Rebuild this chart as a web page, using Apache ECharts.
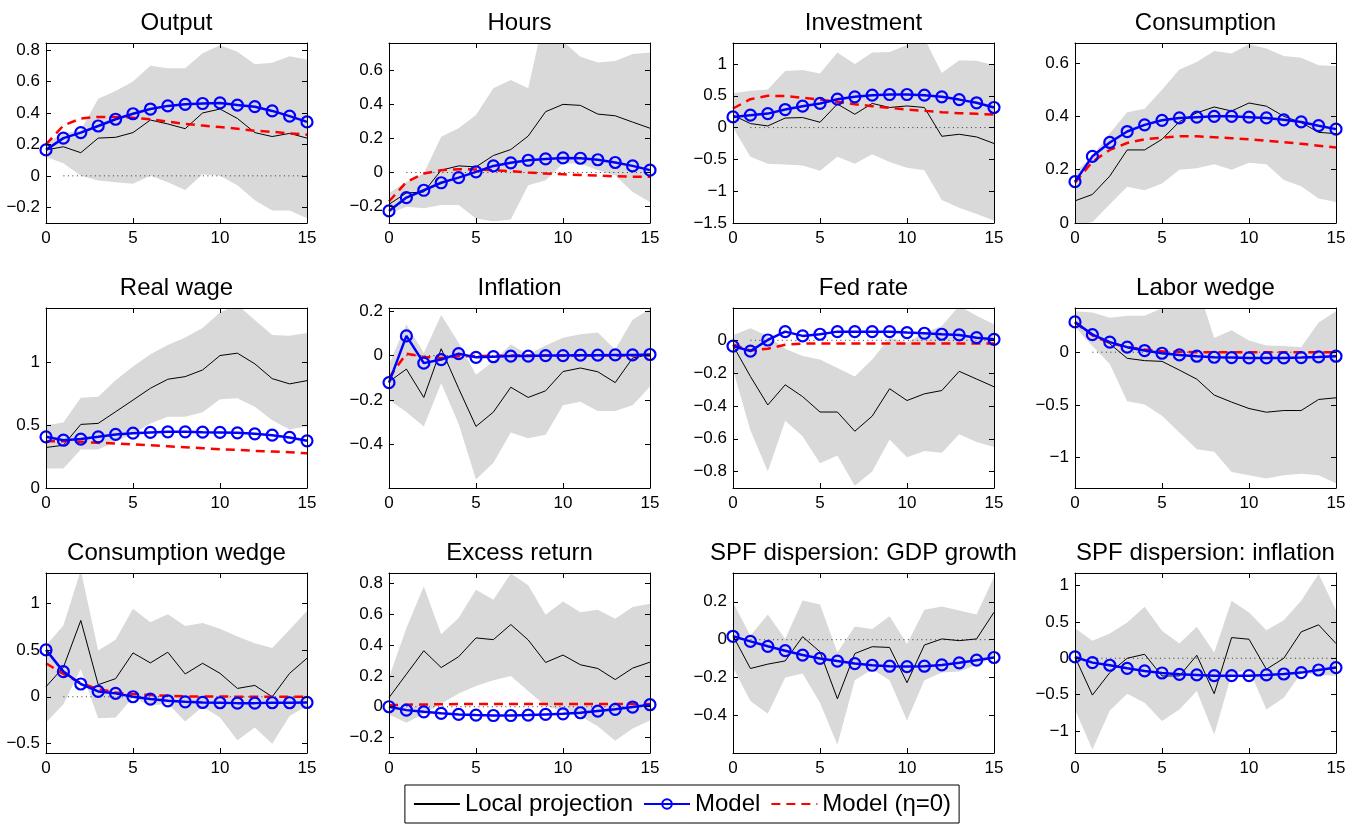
<!DOCTYPE html>
<html>
<head>
<meta charset="utf-8">
<script src="https://cdn.jsdelivr.net/npm/echarts@6/dist/echarts.min.js"></script>
<style>
html, body { margin: 0; padding: 0; background: #fff; }
#chart { width: 1364px; height: 827px; }
</style>
</head>
<body>
<div id="chart"></div>
<script>
// horizons (quarters)
const horizons = [0,1,2,3,4,5,6,7,8,9,10,11,12,13,14,15];

// Output
const outputUpper = [0.21,0.27,0.29,0.49,0.54,0.60,0.70,0.685,0.685,0.78,0.83,0.79,0.71,0.72,0.76,0.74];
const outputLower = [0.12,0.08,0.00,-0.03,-0.04,-0.05,0.00,-0.04,-0.09,0.01,0.00,-0.06,-0.155,-0.22,-0.22,-0.27];
const outputLP = [0.165,0.185,0.147,0.24,0.245,0.275,0.355,0.33,0.30,0.40,0.425,0.365,0.275,0.25,0.27,0.24];
const outputModel = [0.165,0.24,0.275,0.317,0.36,0.395,0.425,0.445,0.455,0.46,0.464,0.45,0.44,0.413,0.38,0.343];
const outputEta0 = [0.2,0.32,0.365,0.375,0.375,0.37,0.36,0.345,0.33,0.32,0.31,0.30,0.287,0.28,0.27,0.262];
const outputTicks = [-0.2,0,0.2,0.4,0.6,0.8];

// Hours
const hoursUpper = [-0.12,-0.055,-0.006,0.21,0.26,0.337,0.494,0.543,0.494,0.95,0.77,0.68,0.645,0.655,0.696,0.704];
const hoursLower = [-0.24,-0.2,-0.21,-0.19,-0.19,-0.27,-0.285,-0.276,-0.075,-0.045,0.053,0.053,0.014,-0.016,-0.114,-0.173];
const hoursLP = [-0.186,-0.12,-0.114,0.014,0.039,0.033,0.10,0.135,0.214,0.357,0.40,0.394,0.343,0.333,0.296,0.26];
const hoursModel = [-0.225,-0.147,-0.104,-0.06,-0.03,0.004,0.039,0.057,0.072,0.08,0.086,0.084,0.075,0.059,0.039,0.014];
const hoursEta0 = [-0.17,-0.055,-0.006,0.014,0.02,0.018,0.014,0.008,0,-0.006,-0.01,-0.014,-0.018,-0.022,-0.024,-0.025];
const hoursTicks = [-0.2,0,0.2,0.4,0.6];

// Investment
const invUpper = [0.54,0.58,0.6,0.89,0.905,0.85,1.18,1.0,1.18,1.19,1.3,1.4,0.86,1.06,1.05,0.98];
const invLower = [0.0,-0.46,-0.57,-0.58,-0.595,-0.68,-0.46,-0.57,-0.42,-0.54,-0.63,-0.67,-1.14,-1.26,-1.36,-1.46];
const invLP = [0.195,0.063,0.026,0.15,0.158,0.084,0.37,0.21,0.38,0.316,0.34,0.316,-0.137,-0.105,-0.147,-0.25];
const invModel = [0.168,0.195,0.22,0.284,0.337,0.38,0.447,0.484,0.51,0.52,0.52,0.51,0.484,0.44,0.39,0.316];
const invEta0 = [0.3,0.447,0.5,0.495,0.468,0.44,0.405,0.368,0.337,0.31,0.284,0.263,0.242,0.226,0.216,0.205];
const invTicks = [-1.5,-1,-0.5,0,0.5,1];

// Consumption
const consUpper = [0.19,0.25,0.337,0.415,0.428,0.5,0.576,0.604,0.645,0.636,0.67,0.654,0.626,0.62,0.592,0.589];
const consLower = [-0.01,0.004,0.07,0.136,0.123,0.148,0.2,0.205,0.22,0.2,0.226,0.22,0.161,0.138,0.092,0.079];
const consLP = [0.083,0.107,0.176,0.274,0.274,0.314,0.38,0.413,0.435,0.42,0.45,0.438,0.4,0.377,0.34,0.335];
const consModel = [0.155,0.25,0.302,0.343,0.368,0.385,0.394,0.397,0.4,0.4,0.397,0.394,0.387,0.379,0.365,0.352];
const consEta0 = [0.151,0.23,0.274,0.3,0.314,0.32,0.325,0.325,0.322,0.318,0.314,0.308,0.303,0.297,0.29,0.283];
const consTicks = [0,0.2,0.4,0.6];

// Real wage
const wageUpper = [0.5,0.523,0.72,0.728,0.86,0.968,1.067,1.14,1.2,1.275,1.4,1.46,1.34,1.22,1.213,1.235];
const wageLower = [0.155,0.155,0.307,0.307,0.368,0.435,0.515,0.568,0.568,0.603,0.707,0.715,0.648,0.541,0.467,0.493];
const wageLP = [0.323,0.341,0.507,0.515,0.608,0.701,0.795,0.867,0.888,0.941,1.056,1.075,0.99,0.872,0.83,0.856];
const wageModel = [0.408,0.381,0.39,0.408,0.427,0.437,0.443,0.448,0.448,0.445,0.443,0.44,0.432,0.421,0.403,0.376];
const wageEta0 = [0.373,0.373,0.368,0.36,0.355,0.347,0.341,0.333,0.325,0.317,0.309,0.304,0.296,0.291,0.285,0.277];
const wageTicks = [0,0.5,1];

// Inflation
const inflUpper = [-0.04,0.142,0.012,0.183,0.058,-0.087,-0.026,0.05,0.005,0.046,0.081,0.096,0.104,0.027,0.162,0.21];
const inflLower = [-0.2,-0.255,-0.32,-0.125,-0.308,-0.56,-0.484,-0.347,-0.373,-0.357,-0.224,-0.209,-0.25,-0.25,-0.224,-0.14];
const inflLP = [-0.118,-0.061,-0.189,0.031,-0.148,-0.32,-0.255,-0.143,-0.189,-0.159,-0.072,-0.056,-0.073,-0.122,-0.011,0.005];
const inflModel = [-0.122,0.089,-0.034,-0.018,0.009,-0.008,-0.005,-0.002,-0.002,0,0,0.002,0.002,0.003,0.003,0.005];
const inflEta0 = [-0.1,0.009,-0.006,-0.011,-0.003,-0.002,-0.001,0,0,0,0,0,0,0,0,0];
const inflTicks = [-0.4,-0.2,0,0.2];

// Fed rate
const fedUpper = [0.031,0.074,0.027,-0.051,-0.096,-0.117,-0.168,-0.22,-0.117,0.016,-0.014,0.047,0.088,0.21,0.15,0.098];
const fedLower = [-0.18,-0.548,-0.8,-0.49,-0.585,-0.749,-0.702,-0.886,-0.8,-0.605,-0.712,-0.675,-0.685,-0.572,-0.62,-0.65];
const fedLP = [-0.031,-0.22,-0.394,-0.271,-0.343,-0.437,-0.437,-0.554,-0.462,-0.295,-0.367,-0.326,-0.306,-0.189,-0.236,-0.283];
const fedModel = [-0.035,-0.066,0.002,0.053,0.027,0.037,0.053,0.053,0.053,0.053,0.047,0.043,0.037,0.033,0.016,0.006];
const fedEta0 = [-0.025,-0.062,-0.051,-0.027,-0.02,-0.02,-0.02,-0.02,-0.02,-0.02,-0.02,-0.02,-0.02,-0.02,-0.02,-0.02];
const fedTicks = [-0.8,-0.6,-0.4,-0.2,0];

// Labor wedge
const laborUpper = [0.39,0.378,0.327,0.346,0.346,0.417,0.55,0.65,0.135,0.208,0.112,0.064,0.058,0.048,0.282,0.39];
const laborLower = [0.24,0.058,-0.112,-0.465,-0.497,-0.603,-0.763,-0.923,-0.946,-1.138,-1.17,-1.2,-1.17,-1.154,-1.17,-1.244];
const laborLP = [0.272,0.176,0.08,-0.058,-0.08,-0.087,-0.17,-0.256,-0.407,-0.474,-0.535,-0.57,-0.554,-0.554,-0.449,-0.433];
const laborModel = [0.288,0.167,0.096,0.048,0.016,-0.01,-0.026,-0.038,-0.048,-0.051,-0.054,-0.054,-0.054,-0.051,-0.045,-0.038];
const laborEta0 = [0.282,0.16,0.087,0.048,0.026,0.01,0.003,0,0,0,0,0,0,0,0,0];
const laborTicks = [-1,-0.5,0];

// Consumption wedge
const cwUpper = [0.546,0.76,1.35,0.493,0.607,0.94,0.796,0.879,0.754,0.786,0.725,0.643,0.571,0.521,0.714,0.914];
const cwLower = [-0.275,-0.079,0.296,-0.229,-0.221,-0.007,-0.096,-0.071,-0.264,-0.107,-0.221,-0.464,-0.329,-0.5,-0.204,-0.096];
const cwLP = [0.107,0.314,0.814,0.129,0.193,0.468,0.361,0.475,0.243,0.357,0.25,0.089,0.121,0.0,0.25,0.411];
const cwModel = [0.5,0.268,0.136,0.057,0.036,0.0,-0.025,-0.043,-0.054,-0.061,-0.064,-0.068,-0.068,-0.064,-0.064,-0.061];
const cwEta0 = [0.357,0.243,0.146,0.082,0.046,0.029,0.018,0.011,0.004,0.003,0.002,0.001,0.001,0,0,0];
const cwTicks = [-0.5,0,0.5,1];

// Excess return
const exUpper = [0.19,0.51,0.78,0.47,0.576,0.759,0.693,0.863,0.787,0.596,0.683,0.613,0.628,0.57,0.646,0.667];
const exLower = [-0.05,-0.104,-0.046,0.02,0.085,0.135,0.172,0.2,0.102,0.004,-0.028,-0.061,-0.126,-0.22,-0.141,-0.089];
const exLP = [0.059,0.211,0.363,0.254,0.324,0.446,0.435,0.533,0.433,0.287,0.335,0.272,0.248,0.176,0.25,0.289];
const exModel = [0,-0.022,-0.033,-0.043,-0.05,-0.054,-0.057,-0.057,-0.054,-0.05,-0.046,-0.039,-0.028,-0.017,-0.002,0.013];
const exEta0 = [0.01,0.013,0.015,0.016,0.017,0.017,0.017,0.018,0.018,0.018,0.018,0.018,0.018,0.018,0.018,0.018];
const exTicks = [-0.2,0,0.2,0.4,0.6,0.8];

// SPF dispersion: GDP growth
const gdpUpper = [0.198,0.021,0.133,0.004,0.207,0.186,-0.067,0.069,0.057,0.124,-0.023,0.158,0.175,0.154,0.133,0.331];
const gdpLower = [-0.147,-0.324,-0.391,-0.2,-0.179,-0.333,-0.554,-0.214,-0.156,-0.214,-0.427,-0.214,-0.173,-0.168,-0.133,-0.094];
const gdpLP = [0.021,-0.152,-0.129,-0.112,0.016,-0.064,-0.312,-0.073,-0.037,-0.041,-0.227,-0.028,0.004,-0.005,0.004,0.145];
const gdpModel = [0.018,-0.009,-0.035,-0.058,-0.081,-0.099,-0.113,-0.126,-0.135,-0.14,-0.142,-0.14,-0.133,-0.122,-0.108,-0.094];
const gdpTicks = [-0.4,-0.2,0,0.2];

// SPF dispersion: inflation
const sinfUpper = [0.413,0.239,0.339,0.49,0.706,0.376,0.202,0.431,0.078,0.789,0.628,0.385,0.523,0.789,1.156,0.66];
const sinfLower = [-0.702,-1.252,-0.716,-0.486,-0.61,-0.862,-0.702,-0.45,-1.046,-0.22,-0.15,-0.702,-0.541,-0.2,-0.23,-0.24];
const sinfLP = [0.018,-0.505,-0.197,0,0.055,-0.243,-0.243,0.041,-0.486,0.284,0.261,-0.151,0,0.362,0.459,0.202];
const sinfModel = [0.018,-0.06,-0.096,-0.138,-0.174,-0.202,-0.22,-0.229,-0.239,-0.239,-0.239,-0.229,-0.216,-0.197,-0.161,-0.128];
const sinfTicks = [-1,-0.5,0,0.5,1];

const panels = [
  {title: 'Output', hi: outputUpper, lo: outputLower, lp: outputLP, model: outputModel, eta0: outputEta0, ticks: outputTicks, min: -0.3, max: 0.845},
  {title: 'Hours', hi: hoursUpper, lo: hoursLower, lp: hoursLP, model: hoursModel, eta0: hoursEta0, ticks: hoursTicks, min: -0.296, max: 0.76},
  {title: 'Investment', hi: invUpper, lo: invLower, lp: invLP, model: invModel, eta0: invEta0, ticks: invTicks, min: -1.5, max: 1.33},
  {title: 'Consumption', hi: consUpper, lo: consLower, lp: consLP, model: consModel, eta0: consEta0, ticks: consTicks, min: 0, max: 0.675},
  {title: 'Real wage', hi: wageUpper, lo: wageLower, lp: wageLP, model: wageModel, eta0: wageEta0, ticks: wageTicks, min: 0, max: 1.435},
  {title: 'Inflation', hi: inflUpper, lo: inflLower, lp: inflLP, model: inflModel, eta0: inflEta0, ticks: inflTicks, min: -0.598, max: 0.215},
  {title: 'Fed rate', hi: fedUpper, lo: fedLower, lp: fedLP, model: fedModel, eta0: fedEta0, ticks: fedTicks, min: -0.9, max: 0.197},
  {title: 'Labor wedge', hi: laborUpper, lo: laborLower, lp: laborLP, model: laborModel, eta0: laborEta0, ticks: laborTicks, min: -1.29, max: 0.42},
  {title: 'Consumption wedge', hi: cwUpper, lo: cwLower, lp: cwLP, model: cwModel, eta0: cwEta0, ticks: cwTicks, min: -0.6, max: 1.32},
  {title: 'Excess return', hi: exUpper, lo: exLower, lp: exLP, model: exModel, eta0: exEta0, ticks: exTicks, min: -0.3, max: 0.867},
  {title: 'SPF dispersion: GDP growth', hi: gdpUpper, lo: gdpLower, lp: gdpLP, model: gdpModel, eta0: null, ticks: gdpTicks, min: -0.598, max: 0.352},
  {title: 'SPF dispersion: inflation', hi: sinfUpper, lo: sinfLower, lp: sinfLP, model: sinfModel, eta0: null, ticks: sinfTicks, min: -1.3, max: 1.17}
];

const FONT = '"Liberation Sans", Arial, Helvetica, sans-serif';
const colLeft = [46, 389, 733, 1075];
const rowTop = [43, 308, 573];
const plotW = 261, plotH = 180;

function fmt(v) {
  const s = String(parseFloat(Math.abs(v).toFixed(2)));
  return v < 0 ? '\u2212' + s : s;
}

// grey band drawn as one polygon, clipped to the plot box
function bandRenderer(bandData) {
  return function (params, api) {
    if (params.dataIndex !== 0) return null;
    const upper = bandData.map(d => api.coord([d[0], d[2]]));
    const lower = bandData.map(d => api.coord([d[0], d[1]])).reverse();
    const cs = params.coordSys;
    return {
      type: 'group',
      clipPath: {type: 'rect', shape: {x: cs.x, y: cs.y, width: cs.width, height: cs.height}},
      children: [{type: 'polygon', shape: {points: upper.concat(lower)}, style: {fill: '#d9d9d9', stroke: null}}]
    };
  };
}

const grids = [], xAxes = [], yAxes = [], titles = [], series = [];

panels.forEach((p, i) => {
  const left = colLeft[i % 4], top = rowTop[Math.floor(i / 4)];
  grids.push({left: left, top: top, width: plotW, height: plotH, show: false});
  titles.push({
    text: p.title, left: left + plotW / 2, top: top - 32, textAlign: 'center', padding: 0,
    textStyle: {fontSize: 24, fontWeight: 'normal', color: '#000', fontFamily: FONT}
  });
  const line = {show: true, onZero: false, lineStyle: {color: '#000', width: 1}};
  const tick = {show: true, inside: true, length: 5, lineStyle: {color: '#000', width: 1}};
  xAxes.push({
    type: 'value', gridIndex: i, min: 0, max: 15, interval: 5, position: 'bottom', z: 10,
    axisLine: line, axisTick: tick, splitLine: {show: false},
    axisLabel: {fontSize: 17, color: '#000', fontFamily: FONT, margin: 7}
  });
  xAxes.push({
    type: 'value', gridIndex: i, min: 0, max: 15, interval: 5, position: 'top', z: 10,
    axisLine: line, axisTick: tick, splitLine: {show: false}, axisLabel: {show: false}
  });
  yAxes.push({
    type: 'value', gridIndex: i, min: p.min, max: p.max, position: 'left', z: 10,
    axisLine: line, axisTick: Object.assign({}, tick, {customValues: p.ticks}), splitLine: {show: false},
    axisLabel: {customValues: p.ticks, formatter: fmt, fontSize: 17, color: '#000', fontFamily: FONT, margin: 6}
  });
  yAxes.push({
    type: 'value', gridIndex: i, min: p.min, max: p.max, position: 'right', z: 10,
    axisLine: line, axisTick: Object.assign({}, tick, {customValues: p.ticks}), splitLine: {show: false},
    axisLabel: {show: false}
  });
  const ax = {xAxisIndex: 2 * i, yAxisIndex: 2 * i};
  const bandData = horizons.map((h, k) => [h, p.lo[k], p.hi[k]]);
  series.push(Object.assign({
    type: 'custom', name: 'band', silent: true, data: bandData,
    encode: {x: 0, y: [1, 2]}, renderItem: bandRenderer(bandData), z: 1
  }, ax));
  if (p.min < 0) {
    series.push(Object.assign({
      type: 'line', name: 'zero', silent: true, data: horizons.slice(1).map(h => [h, 0]), symbol: 'none',
      lineStyle: {color: '#333', width: 1, type: [1, 3.5]}, z: 2
    }, ax));
  }
  series.push(Object.assign({
    type: 'line', name: 'Local projection', data: horizons.map((h, k) => [h, p.lp[k]]), symbol: 'none',
    lineStyle: {color: '#000', width: 1}, itemStyle: {color: '#000'}, z: 3
  }, ax));
  if (p.eta0) {
    series.push(Object.assign({
      type: 'line', name: 'Model (\u03b7=0)', data: horizons.map((h, k) => [h, p.eta0[k]]), symbol: 'none',
      lineStyle: {color: '#ff0000', width: 2.5, type: [9, 6]}, itemStyle: {color: '#ff0000'}, z: 4
    }, ax));
  }
  series.push(Object.assign({
    type: 'line', name: 'Model', data: horizons.map((h, k) => [h, p.model[k]]), symbol: 'circle', symbolSize: 11,
    lineStyle: {color: '#0000ff', width: 2.5},
    itemStyle: {color: 'rgba(255,255,255,0)', borderColor: '#0000ff', borderWidth: 2.2}, z: 5
  }, ax));
});

const chart = echarts.init(document.getElementById('chart'), null, {renderer: 'canvas'});
chart.setOption({
  animation: false,
  backgroundColor: '#fff',
  title: titles,
  grid: grids,
  xAxis: xAxes,
  yAxis: yAxes,
  legend: {
    data: [
      {name: 'Local projection', itemStyle: {opacity: 0}},
      {name: 'Model'},
      {name: 'Model (\u03b7=0)', itemStyle: {opacity: 0}}
    ],
    left: 'center', top: 785, orient: 'horizontal',
    backgroundColor: '#fff', borderColor: '#000', borderWidth: 1, borderRadius: 0,
    padding: [7, 8], itemGap: 10, itemWidth: 46, itemHeight: 12,
    textStyle: {fontSize: 24, color: '#000', fontFamily: FONT}
  },
  series: series
});
</script>
</body>
</html>
